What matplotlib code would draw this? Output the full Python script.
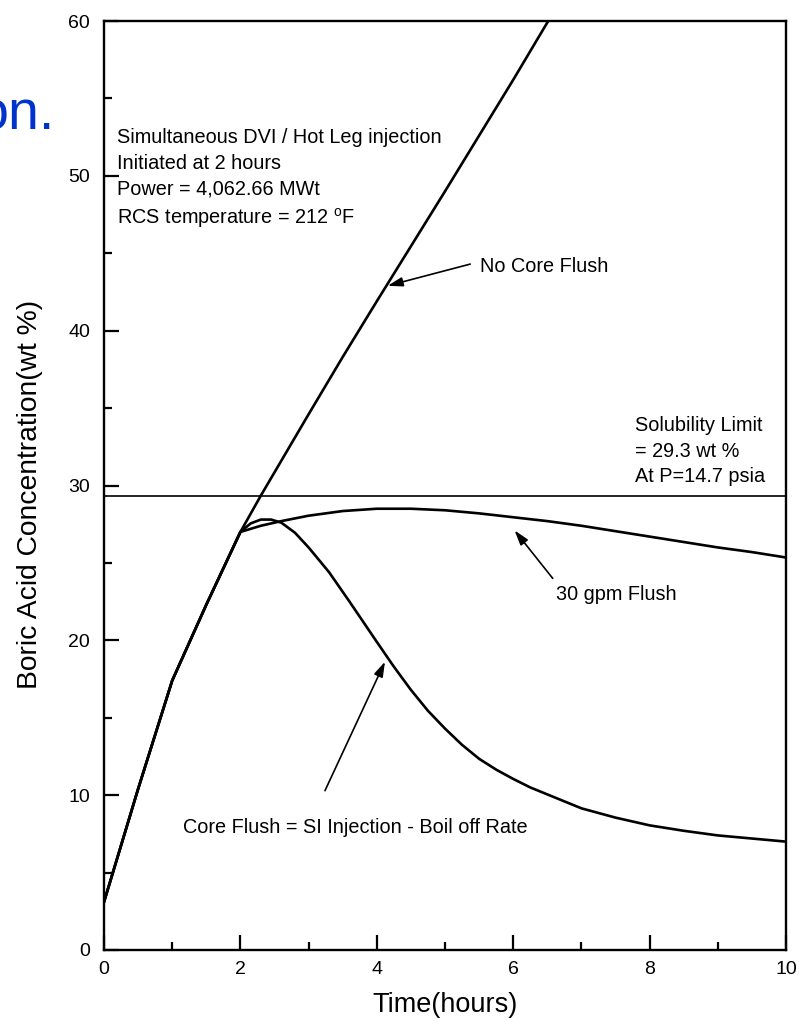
import matplotlib
matplotlib.use('Agg')
import matplotlib.pyplot as plt
from matplotlib.ticker import MultipleLocator

# ---------------- data ----------------
time_no_flush = [0.0, 0.5, 1.0, 1.5, 2.0, 2.3, 3.0, 3.5, 4.0, 5.0, 6.0, 6.5, 7.0]
conc_no_flush = [3.1, 10.4, 17.4, 22.3, 27.0, 29.35, 34.6, 38.3, 41.9, 49.0, 56.2, 59.9, 63.5]

time_30gpm = [0.0, 0.5, 1.0, 1.5, 2.0, 2.3, 2.6, 3.0, 3.5, 4.0, 4.5, 5.0, 5.5, 6.0,
              6.5, 7.0, 7.5, 8.0, 8.5, 9.0, 9.5, 10.0]
conc_30gpm = [3.1, 10.4, 17.4, 22.3, 27.0, 27.4, 27.7, 28.05, 28.35, 28.5, 28.5, 28.4,
              28.2, 27.95, 27.7, 27.4, 27.05, 26.7, 26.35, 26.0, 25.7, 25.35]

time_core = [0.0, 0.5, 1.0, 1.5, 2.0, 2.15, 2.3, 2.45, 2.6, 2.8, 3.0, 3.3, 3.6, 4.0,
             4.25, 4.5, 4.75, 5.0, 5.25, 5.5, 5.75, 6.0, 6.25, 6.5, 7.0, 7.5, 8.0,
             8.5, 9.0, 9.5, 10.0]
conc_core = [3.1, 10.4, 17.4, 22.3, 27.0, 27.55, 27.8, 27.8, 27.6, 26.95, 26.0, 24.4,
             22.5, 19.9, 18.3, 16.8, 15.45, 14.3, 13.25, 12.35, 11.65, 11.05, 10.5,
             10.05, 9.15, 8.55, 8.05, 7.7, 7.4, 7.2, 7.0]

solubility_limit = 29.3

x_ticks = [0, 2, 4, 6, 8, 10]
y_ticks = [0, 10, 20, 30, 40, 50, 60]

# ---------------- fonts ----------------
plt.rcParams['font.family'] = ['Liberation Sans', 'DejaVu Sans']
plt.rcParams['mathtext.fontset'] = 'custom'
plt.rcParams['mathtext.rm'] = 'Liberation Sans'

fig = plt.figure(figsize=(7.99, 10.30), dpi=100)
ax = fig.add_axes([104 / 799, 1 - 950 / 1030, (786 - 104) / 799, (950 - 21) / 1030])

lw = 1.9
ax.plot(time_no_flush, conc_no_flush, color='black', lw=lw, solid_capstyle='butt')
ax.plot(time_30gpm, conc_30gpm, color='black', lw=lw, solid_joinstyle='round')
ax.plot(time_core, conc_core, color='black', lw=lw, solid_joinstyle='round')
ax.axhline(solubility_limit, color='black', lw=1.2)

ax.set_xlim(0, 10)
ax.set_ylim(0, 60)
ax.set_xticks(x_ticks)
ax.set_yticks(y_ticks)
ax.xaxis.set_minor_locator(MultipleLocator(1))
ax.yaxis.set_minor_locator(MultipleLocator(5))
ax.tick_params(which='both', direction='in', top=False, right=False, width=1.6, colors='black')
ax.tick_params(which='major', length=11, labelsize=14)
ax.tick_params(which='minor', length=6)
ax.tick_params(axis='y', which='major', pad=10)
ax.tick_params(axis='x', which='major', pad=8)
for s in ax.spines.values():
    s.set_linewidth(1.7)

ax.set_xlabel('Time(hours)', fontsize=19.5, labelpad=10)
ax.set_ylabel('Boric Acid Concentration(wt %)', fontsize=20.3)
ax.yaxis.set_label_coords(-0.0894, 0.49)

tfs = 14.3
tk = dict(fontsize=tfs, ha='left', va='baseline')
ax.text(0.186, 52.11, 'Simultaneous DVI / Hot Leg injection', **tk)
ax.text(0.186, 50.43, 'Initiated at 2 hours', **tk)
ax.text(0.186, 48.77, 'Power = 4,062.66 MWt', **tk)
ax.text(0.186, 46.9, 'RCS temperature = 212 $^{\\mathrm{o}}$F', **tk)

ax.text(5.52, 43.82, 'No Core Flush', **tk)
ax.text(7.79, 33.49, 'Solubility Limit', **tk)
ax.text(7.79, 31.87, '= 29.3 wt %', **tk)
ax.text(7.79, 30.25, 'At P=14.7 psia', **tk)
ax.text(6.63, 22.6, '30 gpm Flush', **tk)
ax.text(1.16, 7.56, 'Core Flush = SI Injection - Boil off Rate', **tk)

ap = dict(arrowstyle='-|>,head_length=0.9,head_width=0.28', color='black', lw=1.2,
          shrinkA=0, shrinkB=0)
ax.annotate('', xy=(4.16, 42.9), xytext=(5.37, 44.3), arrowprops=ap)
ax.annotate('', xy=(6.02, 27.1), xytext=(6.58, 24.0), arrowprops=ap)
ax.annotate('', xy=(4.12, 18.62), xytext=(3.24, 10.29), arrowprops=ap)

fig.text(55 / 799, 1 - 130 / 1030, 'on.', color='#0033cc', fontsize=40,
         ha='right', va='baseline', family='Liberation Sans')

fig.savefig('out.png', dpi=100)
